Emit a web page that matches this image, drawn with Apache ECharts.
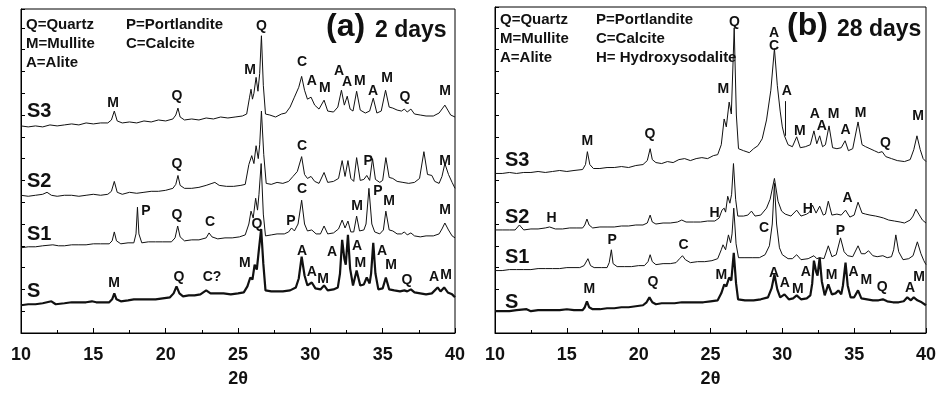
<!DOCTYPE html>
<html>
<head>
<meta charset="utf-8">
<script src="https://cdn.jsdelivr.net/npm/echarts@6/dist/echarts.min.js"></script>
<style>
  html, body { margin: 0; padding: 0; background: #fff; }
  #chart { width: 939px; height: 393px; }
</style>
</head>
<body>
<div id="chart"></div>
<script>
// intensities are offset heights (arbitrary units)
const s3_2d = [[10,209],[10.5,208],[11,209],[11.5,208],[12,210],[12.5,209],[13,210],[13.5,211],[14,210],[14.5,212],[15,211],[15.5,212],[16,212],[16.25,215],[16.45,224],[16.65,214],[17,212],[17.5,213],[18,212],[18.5,214],[19,213],[19.5,215],[20,214],[20.5,216],[20.7,220],[20.85,227],[21,218],[21.3,215],[21.8,216],[22.3,215],[22.8,217],[23.3,216],[23.8,218],[24.3,217],[24.8,218],[25.3,219],[25.6,221],[25.8,238],[25.9,246],[26,236],[26.1,242],[26.25,258],[26.38,244],[26.5,262],[26.62,300],[26.75,250],[26.9,221],[27.2,220],[27.6,218],[28,221],[28.3,222],[28.6,228],[28.9,238],[29.2,248],[29.4,259],[29.6,245],[29.8,236],[30.05,238],[30.3,230],[30.6,226],[30.95,235],[31.2,224],[31.6,223],[31.9,228],[32.15,245],[32.35,230],[32.55,239],[32.75,226],[32.95,224],[33.2,244],[33.45,225],[33.8,222],[34.1,224],[34.35,237],[34.6,222],[34.9,224],[35.2,245],[35.45,228],[35.7,227],[36,225],[36.3,224],[36.5,226],[36.7,223],[36.95,226],[37.2,221],[37.6,220],[38,219],[38.5,219],[38.9,222],[39.15,227],[39.3,230],[39.5,225],[39.7,220],[40,218]];
const s2_2d = [[10,139],[10.5,138],[11,139],[11.5,140],[11.8,142],[12.1,139],[12.5,138],[13,139],[13.5,139],[14,138],[14.5,139],[15,140],[15.5,139],[16,140],[16.25,143],[16.45,153],[16.65,142],[17,140],[17.5,142],[18,141],[18.5,142],[19,143],[19.5,143],[20,144],[20.5,146],[20.7,150],[20.85,159],[21,149],[21.3,146],[21.8,146],[22.3,147],[22.8,149],[23.2,151],[23.4,152],[23.7,149],[24.2,148],[24.7,148],[25.2,149],[25.5,150],[25.75,170],[25.95,179],[26.1,171],[26.25,189],[26.4,176],[26.5,190],[26.62,224],[26.78,180],[26.95,151],[27.3,150],[27.7,152],[28.1,151],[28.5,153],[28.8,158],[29.1,163],[29.4,178],[29.6,160],[29.8,156],[30.05,158],[30.3,153],[30.6,151],[30.95,162],[31.2,152],[31.6,153],[31.95,156],[32.2,174],[32.4,158],[32.6,174],[32.8,156],[33,153],[33.2,177],[33.45,154],[33.7,155],[33.9,159],[34.1,154],[34.3,176],[34.5,155],[34.8,152],[35,154],[35.22,177],[35.45,157],[35.7,156],[36,153],[36.4,152],[36.8,151],[37.2,152],[37.55,156],[37.85,183],[38.1,160],[38.4,159],[38.6,153],[38.9,151],[39.1,158],[39.3,171],[39.55,160],[39.8,152],[40,146]];
const s1_2d = [[10,86],[10.5,87],[11,87],[11.5,88],[12.2,89],[12.6,88],[13,88],[13.5,89],[14,89],[14.5,89],[15,90],[15.5,90],[16.1,90],[16.3,93],[16.45,102],[16.6,93],[16.9,90],[17.4,91],[17.8,91],[17.95,100],[18.05,127],[18.15,100],[18.35,91],[18.8,92],[19.3,92],[19.8,92],[20.4,92],[20.65,96],[20.83,108],[21,97],[21.3,93],[21.8,94],[22.3,94],[22.8,96],[23,101],[23.2,97],[23.6,95],[24.1,96],[24.6,96],[25.1,97],[25.5,99],[25.75,110],[25.9,123],[26.05,116],[26.22,136],[26.35,124],[26.45,140],[26.6,171],[26.75,120],[26.9,98],[27.3,99],[27.7,100],[28.2,100],[28.5,102],[28.7,106],[28.9,103],[29.15,110],[29.4,134],[29.6,110],[29.8,103],[30.1,104],[30.4,100],[30.7,100],[30.95,108],[31.2,100],[31.6,101],[31.95,105],[32.2,114],[32.4,106],[32.6,113],[32.8,102],[33,102],[33.2,118],[33.4,103],[33.7,104],[33.85,110],[34.05,146],[34.25,110],[34.45,102],[34.8,100],[35.05,104],[35.22,123],[35.45,104],[35.7,103],[36,100],[36.3,100],[36.5,102],[36.7,99],[36.95,101],[37.2,98],[37.6,97],[38,98],[38.5,98],[38.9,100],[39.1,105],[39.3,111],[39.55,104],[39.8,98],[40,96]];
const s_2d = [[10,28],[10.5,29],[11,29],[11.5,30],[12.1,32],[12.4,29],[13,30],[13.5,31],[14,31],[14.5,31],[14.9,32],[15.2,31],[15.6,31],[16.1,31],[16.3,34],[16.45,40],[16.6,34],[16.9,32],[17.4,33],[17.8,34],[18.3,34],[18.8,34],[19.3,34],[19.8,35],[20.3,36],[20.55,40],[20.75,47],[20.95,40],[21.2,37],[21.6,38],[22,38],[22.4,39],[22.8,43],[23.1,40],[23.5,40],[24,40],[24.5,39],[25,40],[25.4,41],[25.65,47],[25.85,56],[26,54],[26.15,69],[26.3,64],[26.45,85],[26.6,105],[26.75,70],[26.9,43],[27.3,42],[27.7,42],[28.1,42],[28.6,43],[29,46],[29.2,55],[29.4,77],[29.6,58],[29.8,48],[30.1,51],[30.35,45],[30.7,44],[30.95,48],[31.2,43],[31.6,44],[31.9,46],[32.05,60],[32.2,94],[32.35,75],[32.45,69],[32.6,99],[32.75,65],[32.95,48],[33.2,63],[33.45,48],[33.7,49],[33.9,56],[34.1,50],[34.2,60],[34.35,91],[34.5,60],[34.7,44],[35,45],[35.22,56],[35.45,44],[35.8,43],[36.2,42],[36.5,43],[36.7,42],[36.95,44],[37.2,41],[37.6,40],[38,39],[38.4,40],[38.8,46],[39,42],[39.25,46],[39.5,41],[39.8,39],[40,36]];

const s3_28d = [[10,161],[10.5,161],[11,162],[11.5,161],[12,162],[12.5,162],[13,163],[13.5,162],[14,163],[14.5,164],[15,163],[15.5,164],[16.1,165],[16.3,170],[16.43,183],[16.6,170],[16.85,166],[17.3,166],[17.8,167],[18.3,167],[18.8,168],[19.3,167],[19.8,169],[20.3,170],[20.6,174],[20.8,186],[20.95,175],[21.2,172],[21.6,171],[22,173],[22.4,172],[22.8,175],[23.2,176],[23.6,174],[24,176],[24.4,177],[24.8,176],[25.2,179],[25.5,180],[25.75,190],[25.95,216],[26.1,208],[26.3,233],[26.45,221],[26.65,308],[26.8,220],[26.95,186],[27.3,184],[27.7,182],[28,186],[28.3,189],[28.6,196],[28.9,215],[29.2,245],[29.45,287],[29.65,250],[29.85,224],[30,208],[30.15,199],[30.4,190],[30.7,188],[31,198],[31.25,187],[31.6,188],[31.95,190],[32.2,204],[32.4,191],[32.6,199],[32.8,188],[33,190],[33.25,209],[33.5,187],[33.8,186],[34.1,187],[34.37,194],[34.6,184],[34.9,186],[35.27,213],[35.55,190],[35.8,188],[36.1,186],[36.4,184],[36.7,182],[36.95,183],[37.2,178],[37.6,176],[38,174],[38.5,173],[38.9,175],[39.15,185],[39.37,199],[39.6,185],[39.8,176],[40,173]];
const s2_28d = [[10,104],[10.5,104],[11,104],[11.4,104],[11.7,109],[12,104],[12.5,105],[13,105],[13.5,106],[13.8,107],[14.2,105],[14.7,105],[15.2,106],[15.7,106],[16.1,106],[16.25,109],[16.4,115],[16.55,109],[16.8,106],[17.3,107],[17.8,107],[18.3,107],[18.8,108],[19.3,108],[19.8,109],[20.3,109],[20.6,111],[20.8,119],[20.95,112],[21.2,110],[21.7,111],[22.2,111],[22.7,112],[23,114],[23.3,112],[23.8,112],[24.3,112],[24.8,113],[25.3,113],[25.6,116],[25.8,124],[25.95,126],[26.05,122],[26.2,138],[26.35,131],[26.47,140],[26.6,171],[26.75,135],[26.9,118],[27.3,118],[27.6,119],[27.85,123],[28.1,118],[28.5,119],[28.9,126],[29.15,135],[29.45,156],[29.7,133],[29.95,123],[30.2,120],[30.6,118],[31,124],[31.3,118],[31.7,120],[31.9,122],[32.1,129],[32.35,121],[32.6,128],[32.85,119],[33,120],[33.2,133],[33.45,119],[33.8,120],[34.1,119],[34.4,124],[34.7,117],[35,119],[35.27,132],[35.55,121],[35.8,120],[36.1,119],[36.5,118],[36.8,117],[37.05,116],[37.4,114],[37.8,113],[38.2,112],[38.5,111],[38.9,114],[39.1,118],[39.3,125],[39.5,120],[39.75,114],[40,111]];
const s1_28d = [[10,63],[10.5,63],[11,64],[11.5,64],[12,64],[12.5,64],[13,65],[13.5,65],[14,65],[14.5,65],[15,66],[15.5,66],[15.9,66],[16.2,68],[16.47,75],[16.65,68],[16.9,66],[17.4,66],[17.8,66],[17.95,71],[18.1,84],[18.22,70],[18.5,67],[19,67],[19.5,67],[20,68],[20.4,68],[20.65,72],[20.8,79],[20.95,72],[21.2,69],[21.7,70],[22.2,70],[22.6,71],[22.85,75],[23.05,78],[23.25,74],[23.6,71],[24.1,72],[24.6,72],[25.1,73],[25.5,75],[25.75,84],[25.87,89],[26.05,84],[26.25,99],[26.4,91],[26.5,100],[26.62,126],[26.78,90],[26.95,76],[27.4,76],[27.9,76],[28.4,76],[28.8,79],[29.1,88],[29.3,110],[29.45,151],[29.6,110],[29.8,86],[30,79],[30.4,75],[30.7,75],[31,79],[31.3,74],[31.8,75],[32.2,78],[32.4,75],[32.6,76],[32.9,75],[33.2,88],[33.45,77],[33.75,79],[34.05,96],[34.3,82],[34.55,78],[34.9,77],[35.27,88],[35.5,80],[35.75,80],[36,83],[36.3,78],[36.6,77],[37,78],[37.3,76],[37.6,77],[37.75,84],[37.9,99],[38.1,82],[38.4,74],[38.8,75],[39.1,78],[39.4,92],[39.65,80],[39.85,73],[40,69]];
const s_28d = [[10,22],[10.5,22],[11,22],[11.5,23],[12.2,24],[12.5,22],[13,23],[13.5,23],[14,23],[14.5,23],[15,24],[15.5,23],[16.1,23],[16.25,26],[16.4,32],[16.55,26],[16.8,24],[17.3,24],[17.8,25],[18.3,25],[18.8,26],[19.3,26],[19.8,27],[20.3,28],[20.55,31],[20.75,36],[20.95,31],[21.2,29],[21.6,30],[22,30],[22.5,30],[23,31],[23.5,31],[24,31],[24.5,31],[25,32],[25.5,33],[25.75,40],[25.96,49],[26.1,47],[26.3,56],[26.45,53],[26.62,81],[26.78,50],[26.92,34],[27.4,33],[28,33],[28.5,34],[29,36],[29.25,45],[29.45,59],[29.65,44],[29.85,36],[30.15,39],[30.45,34],[30.75,35],[31,38],[31.3,34],[31.7,35],[31.95,38],[32.08,50],[32.2,73],[32.35,62],[32.45,58],[32.6,76],[32.75,52],[32.95,38],[33.2,49],[33.45,39],[33.7,40],[33.9,43],[34.1,39],[34.22,48],[34.4,71],[34.55,48],[34.75,36],[35,36],[35.27,43],[35.5,35],[35.9,34],[36.3,33],[36.7,33],[37,34],[37.3,32],[37.7,31],[38.1,31],[38.45,32],[38.7,36],[38.95,33],[39.15,36],[39.4,33],[39.7,31],[40,28]];

// phase labels [2theta, height, text]
const peakLabels2d = [
  [16.36,232,'M'],[20.78,239,'Q'],[25.83,265,'M'],[26.62,310,'Q'],[29.42,273,'C'],[30.11,254,'A'],[31.01,247,'M'],[31.98,264,'A'],[32.53,253,'A'],[33.43,254,'M'],[34.33,244,'A'],[35.3,257,'M'],[36.54,238,'Q'],[39.31,244,'M'],
  [20.78,170,'Q'],[29.42,189,'C'],[33.99,173,'P'],[39.31,173,'M'],
  [18.64,123,'P'],[20.78,119,'Q'],[23.06,112,'C'],[28.66,113,'P'],[29.42,145,'C'],[33.23,128,'M'],[34.68,143,'P'],[35.44,133,'M'],[39.31,124,'M'],
  [16.43,50,'M'],[20.92,56,'Q'],[23.2,56,'C?'],[25.48,71,'M'],[26.31,110,'Q'],[29.42,83,'A'],[30.11,61,'A'],[30.88,54,'M'],[31.5,82,'A'],[33.23,88,'A'],[33.45,71,'M'],[34.95,83,'A'],[35.58,68,'M'],[36.68,53,'Q'],[38.55,56,'A'],[39.38,58,'M']
];
const peakLabels28d = [
  [16.43,194,'M'],[20.78,201,'Q'],[25.9,246,'M'],[26.66,314,'Q'],[29.42,303,'A'],[29.42,289,'C'],[30.32,244,'A'],[31.22,204,'M'],[32.26,221,'A'],[32.74,209,'A'],[33.57,221,'M'],[34.4,205,'A'],[35.44,222,'M'],[37.17,192,'Q'],[39.45,219,'M'],
  [13.94,116,'H'],[25.28,121,'H'],[31.77,125,'H'],[34.54,136,'A'],
  [18.16,94,'P'],[23.13,89,'C'],[28.73,106,'C'],[34.05,103,'P'],
  [16.57,44,'M'],[20.99,51,'Q'],[25.76,58,'M'],[29.42,60,'A'],[30.18,50,'A'],[31.08,44,'M'],[31.64,61,'A'],[33.43,58,'M'],[34.95,61,'A'],[35.85,53,'M'],[36.96,46,'Q'],[38.89,45,'A'],[39.52,56,'M']
];
const arrow28d = [[30.18,199],[30.18,234]];

const sampleNames = ['S3', 'S2', 'S1', 'S'];
const legendLines = ['Q=Quartz', 'M=Mullite', 'A=Alite'];
const legendLines2 = ['P=Portlandite', 'C=Calcite'];
const legendLines2b = ['P=Portlandite', 'C=Calcite', 'H= Hydroxysodalite'];

const FONT = '"Liberation Sans", Arial, sans-serif';
const INK = '#111';
const chart = echarts.init(document.getElementById('chart'));

const xAxisBase = (gi) => ({
  gridIndex: gi, type: 'value', min: 10, max: 40, interval: 5,
  axisLine: { lineStyle: { color: '#000', width: 1 } },
  axisTick: { inside: true, length: 5, lineStyle: { color: '#000' } },
  minorTick: { show: true, splitNumber: 2, length: 3, lineStyle: { color: '#000' } },
  splitLine: { show: false },
  axisLabel: { color: INK, fontSize: 18, fontWeight: 'bold', fontFamily: FONT, margin: 13 },
  name: '2θ', nameLocation: 'middle', nameGap: 37,
  nameTextStyle: { color: INK, fontSize: 18, fontWeight: 'bold', fontFamily: FONT }
});
const yAxisBase = (gi, max) => ({
  gridIndex: gi, type: 'value', min: 0, max: max, interval: 22,
  axisLine: { show: true, lineStyle: { color: '#000', width: 1 } },
  axisTick: { show: true, inside: true, length: 4, lineStyle: { color: '#000' } },
  axisLabel: { show: false },
  splitLine: { show: false }
});

const lineSeries = (data, gi, w) => ({
  type: 'line', xAxisIndex: gi, yAxisIndex: gi, data: data,
  showSymbol: false, symbol: 'none', silent: true,
  lineStyle: { color: INK, width: w }
});

// texts drawn on the frame
const txt = (x, y, text, size) => ({
  type: 'text', left: x, top: y, silent: true,
  style: { text: text, fill: INK, fontSize: size, fontWeight: 'bold', fontFamily: FONT }
});
const graphics = [];
legendLines.forEach((t, i) => graphics.push(txt(26, 17 + i * 19, t, 15)));
legendLines2.forEach((t, i) => graphics.push(txt(126, 17 + i * 19, t, 15)));
legendLines.forEach((t, i) => graphics.push(txt(500, 12 + i * 19, t, 15)));
legendLines2b.forEach((t, i) => graphics.push(txt(596, 12 + i * 19, t, 15)));
graphics.push(txt(326, 11, '(a)', 32));
graphics.push(txt(375, 19, '2 days', 23));
graphics.push(txt(787, 10, '(b)', 32));
graphics.push(txt(837, 18, '28 days', 23));
[101, 171, 224, 281].forEach((y, i) => graphics.push(txt(27, y, sampleNames[i], 20)));
[150, 207, 247, 292].forEach((y, i) => graphics.push(txt(505, y, sampleNames[i], 20)));

chart.setOption({
  animation: false,
  backgroundColor: '#fff',
  grid: [
    { left: 21, top: 9, width: 434, height: 327, show: true, borderColor: '#000', borderWidth: 1 },
    { left: 495, top: 7, width: 434, height: 329, show: true, borderColor: '#000', borderWidth: 1 }
  ],
  xAxis: [xAxisBase(0), xAxisBase(1)],
  yAxis: [yAxisBase(0, 327), yAxisBase(1, 329)],
  series: [
    lineSeries(s3_2d, 0, 1), lineSeries(s2_2d, 0, 1), lineSeries(s1_2d, 0, 1), lineSeries(s_2d, 0, 2.2),
    lineSeries(s3_28d, 1, 1), lineSeries(s2_28d, 1, 1), lineSeries(s1_28d, 1, 1), lineSeries(s_28d, 1, 2.2),
    {
      type: 'line', xAxisIndex: 1, yAxisIndex: 1, data: [], silent: true,
      markLine: {
        silent: true, symbol: ['none', 'arrow'], symbolSize: [0, 7],
        lineStyle: { color: INK, width: 1, type: 'solid' }, label: { show: false },
        data: [[{ coord: arrow28d[0] }, { coord: arrow28d[1] }]]
      }
    }
  ],
  graphic: graphics
});

// peak letters placed through the axes' own scales
const peakText = (labels, gi) => labels.map(l => {
  const p = chart.convertToPixel({ gridIndex: gi }, [l[0], l[1]]);
  return {
    type: 'text', x: p[0], y: p[1], silent: true,
    style: { text: l[2], fill: INK, fontSize: 14, fontWeight: 'bold', fontFamily: FONT,
             align: 'center', verticalAlign: 'middle' }
  };
});
chart.setOption({
  graphic: graphics.concat(peakText(peakLabels2d, 0), peakText(peakLabels28d, 1))
});
</script>
</body>
</html>
